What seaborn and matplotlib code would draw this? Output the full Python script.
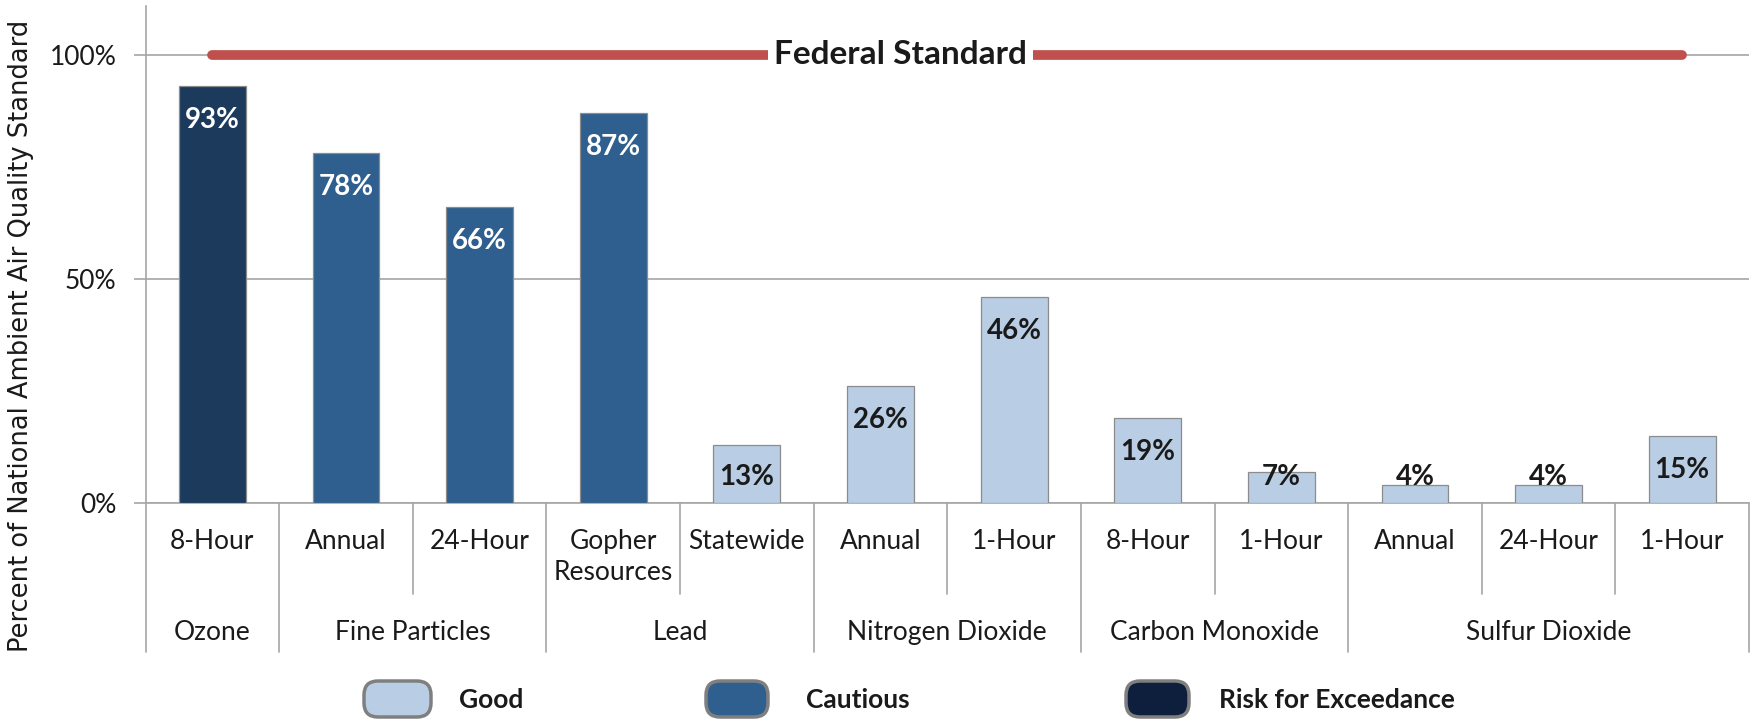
import matplotlib
matplotlib.use("Agg")
import matplotlib.pyplot as plt
from matplotlib.patches import FancyBboxPatch
from matplotlib.transforms import blended_transform_factory
import seaborn as sns
import pandas as pd

# ---- data ----
pollutants = ["Ozone", "Fine Particles", "Fine Particles", "Lead", "Lead",
              "Nitrogen Dioxide", "Nitrogen Dioxide", "Carbon Monoxide",
              "Carbon Monoxide", "Sulfur Dioxide", "Sulfur Dioxide", "Sulfur Dioxide"]
measures = ["8-Hour", "Annual", "24-Hour", "Gopher\nResources", "Statewide",
            "Annual", "1-Hour", "8-Hour", "1-Hour", "Annual", "24-Hour", "1-Hour"]
values = [93, 78, 66, 87, 13, 26, 46, 19, 7, 4, 4, 15]
status = ["Risk for Exceedance", "Cautious", "Cautious", "Cautious", "Good", "Good",
          "Good", "Good", "Good", "Good", "Good", "Good"]
standard = [100] * 12
yticks = [0, 50, 100]
ytick_labels = ["0%", "50%", "100%"]
legend_labels = ["Good", "Cautious", "Risk for Exceedance"]

colors = {"Good": "#B9CDE5", "Cautious": "#2E5F8F", "Risk for Exceedance": "#1B3A5C"}
legend_colors = {"Good": "#B9CDE5", "Cautious": "#2E5F8F", "Risk for Exceedance": "#0E1F3D"}

sns.set_theme(style="white")
plt.rcParams["font.family"] = ["Lato", "DejaVu Sans"]

keys = [f"{i}" for i in range(len(values))]
df = pd.DataFrame({"key": keys, "value": values, "status": status})

W, H = 1756, 721
fig = plt.figure(figsize=(W / 100, H / 100), dpi=100)
ax = fig.add_axes([145.6 / W, 218 / H, (1749 - 145.6) / W, 497.4 / H])

sns.barplot(data=df, x="key", y="value", hue="status", order=keys,
            palette=colors, saturation=1, dodge=False, width=0.5,
            edgecolor="#8C8C8C", linewidth=0.9, legend=False, ax=ax, zorder=3)

ax.set_xlim(-0.5, len(values) - 0.5)
ax.set_ylim(0, 111)
ax.set_yticks(yticks)
ax.set_yticklabels(ytick_labels, fontsize=19, color="#1a1a1a")
ax.tick_params(axis="y", length=9, width=1.2, color="#A6A6A6", pad=12, left=True)
ax.set_xticks([])
ax.set_xlabel("")
ax.set_ylabel("Percent of National Ambient Air Quality Standard",
              family="DejaVu Sans", fontsize=18.5, color="#1a1a1a", va="center")
ax.yaxis.set_label_coords(-0.078, 0.336)

for s in ["top", "right"]:
    ax.spines[s].set_visible(False)
for s in ["left", "bottom"]:
    ax.spines[s].set_color("#A6A6A6")
    ax.spines[s].set_linewidth(1.2)

ax.grid(axis="y", color="#A6A6A6", linewidth=1.2, zorder=0)
ax.set_axisbelow(True)

# federal standard line
sns.lineplot(x=list(range(len(standard))), y=standard, ax=ax, color="#C0504D",
             linewidth=7, zorder=4, solid_capstyle="round")
ax.text(5.15, 100, "Federal Standard", ha="center", va="center", fontsize=24,
        fontweight="bold", color="#1a1a1a", zorder=5,
        bbox=dict(facecolor="white", edgecolor="none", pad=4))

# data labels
for i, (v, st) in enumerate(zip(values, status)):
    y = max(v - 7.0, 6.3)
    c = "white" if st != "Good" else "#1a1a1a"
    ax.text(i, y, f"{v}%", ha="center", va="center_baseline", fontsize=20,
            fontweight="bold", color=c, zorder=6)

# two-level category axis
tr = blended_transform_factory(ax.transData, ax.transAxes)
for i, m in enumerate(measures):
    ax.text(i, -0.052, m, transform=tr, ha="center", va="top", fontsize=19,
            color="#1a1a1a", linespacing=1.3)

groups = []
for i, p in enumerate(pollutants):
    if not groups or groups[-1][0] != p:
        groups.append([p, i, i])
    else:
        groups[-1][2] = i
for p, a, b in groups:
    ax.text((a + b) / 2, -0.261, p, transform=tr, ha="center", va="center",
            fontsize=19, color="#1a1a1a")

for i in range(len(values) + 1):
    xb = i - 0.5
    long = i == 0 or i == len(values) or pollutants[i] != pollutants[i - 1]
    y0 = -0.299 if long else -0.182
    ax.plot([xb, xb], [0, y0], transform=tr, color="#A6A6A6", lw=1.2,
            clip_on=False, zorder=1)

# legend
sw = [(364, 431), (706, 768), (1126, 1189)]
tx = [459, 806, 1219]
for lab, (x0, x1), t in zip(legend_labels, sw, tx):
    y0, y1 = H - 717, H - 681
    p = FancyBboxPatch((x0 / W, y0 / H), (x1 - x0) / W, (y1 - y0) / H,
                       boxstyle="round,pad=0,rounding_size=0.008",
                       transform=fig.transFigure, facecolor=legend_colors[lab],
                       edgecolor="#7F7F7F", linewidth=2.5, mutation_aspect=W / H)
    fig.patches.append(p)
    fig.text(t / W, 1 - 700 / H, lab, ha="left", va="center", fontsize=19,
             fontweight="bold", color="#1a1a1a")

fig.savefig("out.png", dpi=100, facecolor="white")
